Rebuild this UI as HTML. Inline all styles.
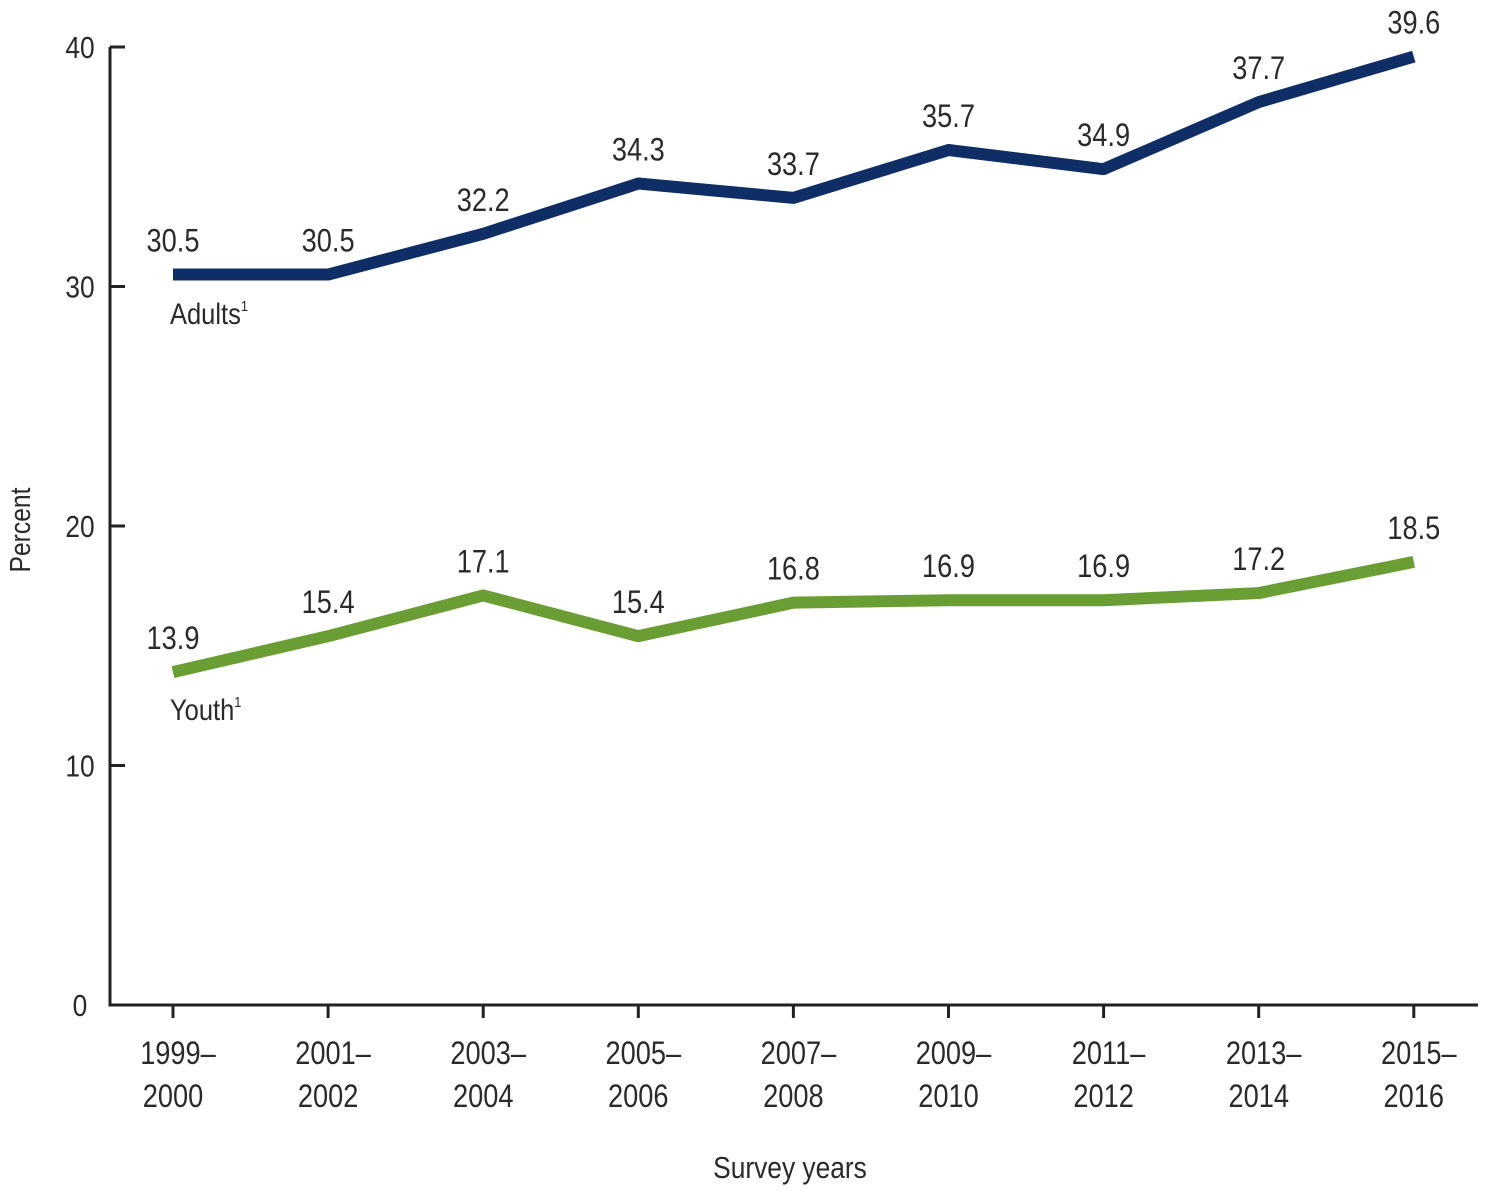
<!DOCTYPE html>
<html><head><meta charset="utf-8"><style>
body{margin:0;background:#fff}
svg text{font-family:"Liberation Sans",Arial,sans-serif;fill:#2a2a2a}
</style></head><body>
<svg id="c" width="1487" height="1198" xmlns="http://www.w3.org/2000/svg"></svg>
<script>
const categories=[["1999–","2000"],["2001–","2002"],["2003–","2004"],["2005–","2006"],["2007–","2008"],["2009–","2010"],["2011–","2012"],["2013–","2014"],["2015–","2016"]];
const adults=[30.5,30.5,32.2,34.3,33.7,35.7,34.9,37.7,39.6];
const youth=[13.9,15.4,17.1,15.4,16.8,16.9,16.9,17.2,18.5];
const yTicks=[0,10,20,30,40];
const svg=document.getElementById('c');
const NS='http://www.w3.org/2000/svg';
const x=i=>173+i*155.1;
const y=v=>1005-v*23.95;
function el(t,a,p){const e=document.createElementNS(NS,t);for(const k in a)e.setAttribute(k,a[k]);(p||svg).appendChild(e);return e;}
function txt(s,tx,ty,size,anchor,name){const t=el('text',{transform:`translate(${tx},${ty}) scale(0.85,1)`,'font-size':size,'text-anchor':anchor||'middle'});t.textContent=s;


return t;}
const ax=el('path',{d:'M110,47 V1005 H1478',stroke:'#222','stroke-width':3,fill:'none'});


yTicks.forEach(v=>{const t=el('line',{x1:110,x2:125,y1:y(v),y2:y(v),stroke:'#222','stroke-width':3});


txt(String(v),80,y(v)+11,31,'middle','y-tick-label');});
categories.forEach((c,i)=>{const t=el('line',{x1:x(i),x2:x(i),y1:1005,y2:1018,stroke:'#222','stroke-width':3});


txt(c[0],x(i)+5,1064,32,'middle','x-tick-label');txt(c[1],x(i),1107,32,'middle','x-tick-label');});
function series(vals,color,name){
const p=el('polyline',{points:vals.map((v,i)=>x(i)+','+y(v)).join(' '),stroke:color,'stroke-width':12,fill:'none','stroke-linejoin':'round'});


vals.forEach((v,i)=>txt(v.toFixed(1),x(i),y(v)-23,32,'middle',name+'-value-label'));}
series(adults,'#0f2e66','adults');
series(youth,'#6a9e34','youth');
const a=txt('Adults',170,324,30,'start','adults-label');
const s1=el('tspan',{'font-size':15,dy:-13});s1.textContent='1';a.appendChild(s1);
const yl=txt('Youth',170,720,30,'start','youth-label');
const s2=el('tspan',{'font-size':15,dy:-13});s2.textContent='1';yl.appendChild(s2);
txt('Survey years',790,1178,31,'middle','x-axis-title');
const pt=el('text',{transform:'translate(30,530) rotate(-90) scale(0.85,1)','font-size':29,'text-anchor':'middle'});pt.textContent='Percent';


</script>
</body></html>
